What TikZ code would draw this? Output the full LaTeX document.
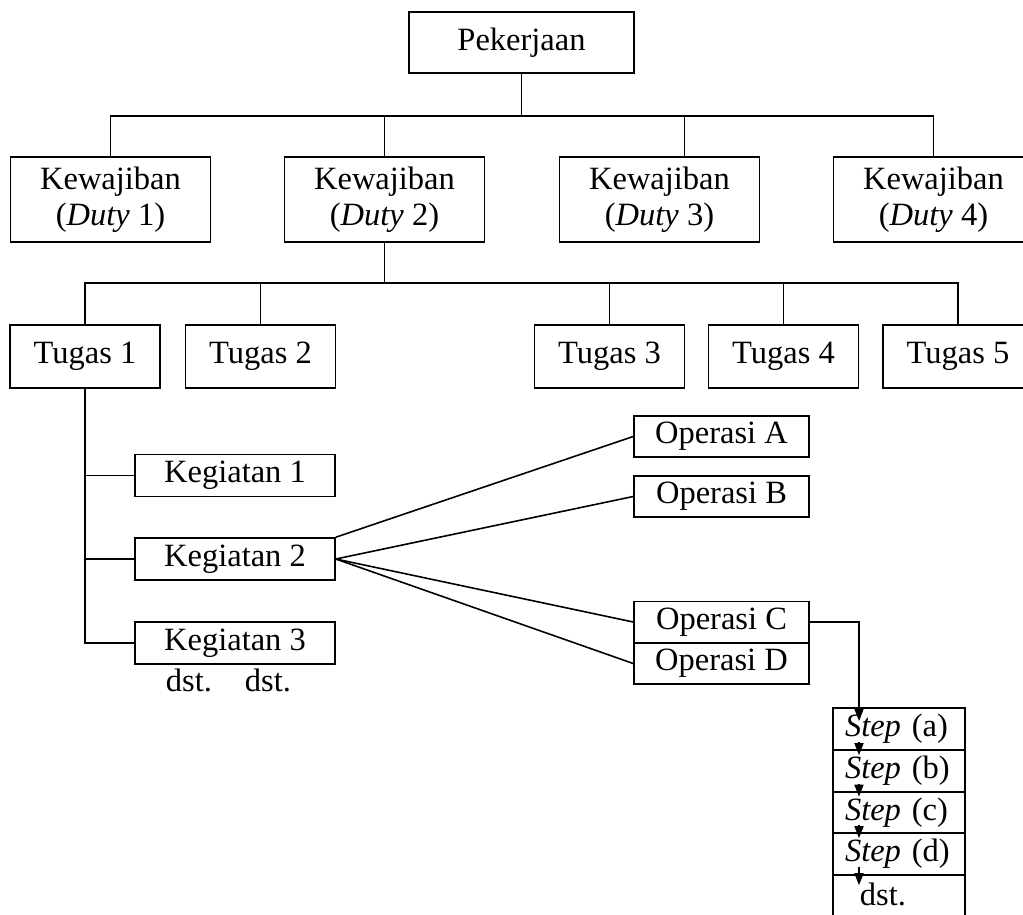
\documentclass[tikz,border=0pt]{standalone}
\usepackage{fontspec}
\setmainfont{Liberation Serif}
\usepackage{tikz}
\usetikzlibrary{arrows.meta}
\tikzset{
  box/.style={draw, rectangle, inner sep=0pt, align=center, font=\fontsize{32.5}{36}\selectfont},
  dutybox/.style={box, minimum width=200pt, minimum height=85pt},
  tugasbox/.style={box, minimum width=150pt, minimum height=63pt},
  kegbox/.style={box, minimum width=200pt, minimum height=42pt},
  opbox/.style={box, minimum width=175pt, minimum height=41pt},
  stepbox/.style={box, text width=108pt, inner xsep=12pt, align=left, minimum height=42pt},
  txt/.style={inner sep=0pt, font=\fontsize{32.5}{36}\selectfont},
  arr/.style={-{Triangle[length=12pt,width=9pt]}}
}

\begin{document}
\begin{tikzpicture}[x=1pt, y=-1pt, line width=1.6pt]
    \clip (0,0) rectangle (1023,914);
    % Job and duties
    \node[box, minimum width=225pt, minimum height=61pt] (pek) at (521.5,42.5) {Pekerjaan};
    \node[dutybox] (d1) at (110.5,199.5) {Kewajiban\\(\textit{Duty} 1)};
    \node[dutybox] (d2) at (384.5,199.5) {Kewajiban\\(\textit{Duty} 2)};
    \node[dutybox] (d3) at (659.5,199.5) {Kewajiban\\(\textit{Duty} 3)};
    \node[dutybox] (d4) at (933.5,199.5) {Kewajiban\\(\textit{Duty} 4)};
    \coordinate (bus1) at (0,116);
    \draw (pek.south) -- (pek.south |- bus1);
    \draw (d1.north) |- (d4.north |- bus1) -- (d4.north);
    \draw (d2.north) -- (d2.north |- bus1);
    \draw ([xshift=25pt]d3.north) -- ([xshift=25pt]d3.north |- bus1);

    % Tasks
    \node[tugasbox] (t1) at (85,356.5) {Tugas 1};
    \node[tugasbox] (t2) at (260.5,356.5) {Tugas 2};
    \node[tugasbox] (t3) at (609.5,356.5) {Tugas 3};
    \node[tugasbox] (t4) at (783.5,356.5) {Tugas 4};
    \node[tugasbox] (t5) at (958,356.5) {Tugas 5};
    \coordinate (bus2) at (0,283);
    \draw (d2.south) -- (d2.south |- bus2);
    \draw (t1.north) |- (t5.north |- bus2) -- (t5.north);
    \draw (t2.north) -- (t2.north |- bus2);
    \draw (t3.north) -- (t3.north |- bus2);
    \draw (t4.north) -- (t4.north |- bus2);

    % Activities
    \node[kegbox] (k1) at (235,475.5) {Kegiatan 1};
    \node[kegbox] (k2) at (235,559) {Kegiatan 2};
    \node[kegbox] (k3) at (235,643) {Kegiatan 3};
    \draw (t1.south) |- (k3.west);
    \draw (t1.south |- k1.west) -- (k1.west);
    \draw (t1.south |- k2.west) -- (k2.west);
    \node[txt, anchor=base] (dst1) at (189,691) {dst.};
    \node[txt, anchor=base] (dst2) at (268,691) {dst.};

    % Operations
    \node[opbox] (opa) at (721.5,436.5) {Operasi A};
    \node[opbox] (opb) at (721.5,496.5) {Operasi B};
    \node[opbox] (opc) at (721.5,622) {Operasi C};
    \node[opbox] (opd) at (721.5,663.5) {Operasi D};
    \draw (k2.north east) -- (opa.west);
    \draw (k2.east) -- (opb.west);
    \draw (k2.east) -- (opc.west);
    \draw (k2.east) -- (opd.west);

    % Steps
    \node[stepbox] (sa) at (899,729) {\textit{Step} (a)};
    \node[stepbox] (sb) at (899,771) {\textit{Step} (b)};
    \node[stepbox] (sc) at (899,812.5) {\textit{Step} (c)};
    \node[stepbox] (sd) at (899,854) {\textit{Step} (d)};
    \node[stepbox] (se) at (899,896) {};
    \node[txt, anchor=base] (dste) at (883,905) {dst.};
    \coordinate (sin) at (859,721);
    \draw[arr] (opc.east) -| (sin);
    \draw[arr] ([yshift=9pt]sa.south -| sin) -- ([yshift=-6pt]sb.north -| sin);
    \draw[arr] ([yshift=9pt]sb.south -| sin) -- ([yshift=-6pt]sc.north -| sin);
    \draw[arr] ([yshift=9pt]sc.south -| sin) -- ([yshift=-6pt]sd.north -| sin);
    \draw[arr] ([yshift=9pt]sd.south -| sin) -- ([yshift=-11pt]se.north -| sin);
\end{tikzpicture}
\end{document}
